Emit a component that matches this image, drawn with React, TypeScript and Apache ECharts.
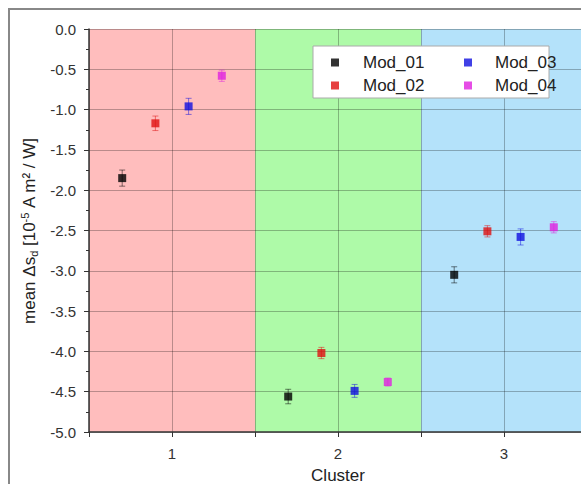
import React, { useEffect, useRef } from "react";
import * as echarts from "echarts";

const seriesNames = ["Mod_01", "Mod_02", "Mod_03", "Mod_04"];
const seriesColors = ["#000000", "#e01010", "#1010e0", "#e020e0"];
const mod01X = [0.7, 1.7, 2.7];
const mod01Y = [-1.85, -4.56, -3.05];
const mod01E = [0.1, 0.09, 0.1];
const mod02X = [0.9, 1.9, 2.9];
const mod02Y = [-1.17, -4.02, -2.51];
const mod02E = [0.09, 0.07, 0.07];
const mod03X = [1.1, 2.1, 3.1];
const mod03Y = [-0.96, -4.49, -2.58];
const mod03E = [0.1, 0.08, 0.1];
const mod04X = [1.3, 2.3, 3.3];
const mod04Y = [-0.58, -4.38, -2.46];
const mod04E = [0.07, 0.05, 0.07];
const clusterBands = [
  [0.5, 1.5],
  [1.5, 2.5],
  [2.5, 3.5],
];
const bandColors = ["#ffbdbd", "#aefaa8", "#b4e2fa"];

const allX = [mod01X, mod02X, mod03X, mod04X];
const allY = [mod01Y, mod02Y, mod03Y, mod04Y];
const allE = [mod01E, mod02E, mod03E, mod04E];

export default function App() {
  const ref = useRef<HTMLDivElement>(null);
  useEffect(() => {
    if (!ref.current) return;
    const chart = echarts.init(ref.current, undefined, { renderer: "svg" });
    const series: any[] = [];
    seriesNames.forEach((name, i) => {
      const pts = allX[i].map((x, j) => [x, allY[i][j], allE[i][j]]);
      const color = seriesColors[i];
      series.push({
        name: name + " err",
        type: "custom",
        z: 3,
        silent: true,
        data: pts,
        encode: { x: 0, y: 1 },
        renderItem: (params: any, api: any) => {
          const x = api.value(0);
          const y = api.value(1);
          const e = api.value(2);
          const t = api.coord([x, y + e]);
          const b = api.coord([x, y - e]);
          const cw = 3;
          const st = { stroke: color, lineWidth: 1, opacity: 0.5 };
          return {
            type: "group",
            children: [
              { type: "line", shape: { x1: t[0], y1: t[1], x2: b[0], y2: b[1] }, style: st },
              { type: "line", shape: { x1: t[0] - cw, y1: t[1], x2: t[0] + cw, y2: t[1] }, style: st },
              { type: "line", shape: { x1: b[0] - cw, y1: b[1], x2: b[0] + cw, y2: b[1] }, style: st },
            ],
          };
        },
      });
      const s: any = {
        name,
        type: "scatter",
        symbol: "rect",
        symbolSize: 8,
        z: 4,
        itemStyle: { color },
        data: pts.map((p) => [p[0], p[1]]),
      };
      if (i === 0) {
        s.markArea = {
          silent: true,
          z: 1,
          data: clusterBands.map((b, k) => [
            { xAxis: b[0], itemStyle: { color: bandColors[k], opacity: 1 } },
            { xAxis: b[1] },
          ]),
        };
      }
      series.push(s);
    });

    const legendText = { fontSize: 17, color: "#222", fontFamily: "Liberation Sans, Arial, sans-serif", lineHeight: 16 };
    chart.setOption({
      animation: false,
      textStyle: { fontFamily: "Liberation Sans, Arial, sans-serif" },
      grid: { left: 89, top: 29, width: 498, height: 403, containLabel: false, outerBoundsMode: "none" },
      xAxis: {
        type: "value",
        min: 0.5,
        max: 3.5,
        interval: 0.5,
        z: 2,
        name: "Cluster",
        nameLocation: "middle",
        nameGap: 36,
        nameTextStyle: { fontSize: 17, lineHeight: 14, color: "#222" },
        axisLine: { show: true, onZero: false, lineStyle: { color: "#333", width: 1.5 } },
        axisTick: { show: true, length: 5, lineStyle: { color: "#333" } },
        axisLabel: {
          margin: 14,
          fontSize: 15,
          color: "#333",
          formatter: (v: number) => (Number.isInteger(v) ? String(v) : ""),
        },
        splitLine: { show: true, lineStyle: { color: "rgba(0,0,0,0.27)", width: 1 } },
      },
      yAxis: {
        type: "value",
        min: -5,
        max: 0,
        interval: 0.5,
        z: 2,
        name: "{n|mean Δs}{sub|d}{n| [10}{sup|-5}{n| A m² / W]}",
        nameLocation: "middle",
        nameGap: 47,
        nameTextStyle: {
          fontSize: 17,
          color: "#222",
          rich: {
            n: { fontSize: 17, lineHeight: 20, color: "#222", verticalAlign: "middle" },
            sub: { fontSize: 11, lineHeight: 11, color: "#222", verticalAlign: "bottom" },
            sup: { fontSize: 11, lineHeight: 11, color: "#222", verticalAlign: "top" },
          },
        },
        axisLine: { show: true, onZero: false, lineStyle: { color: "#333", width: 1.5 } },
        axisTick: { show: true, length: 5, lineStyle: { color: "#333" } },
        minorTick: { show: true, splitNumber: 2, length: 3, lineStyle: { color: "#333" } },
        axisLabel: {
          margin: 13,
          fontSize: 15,
          color: "#333",
          formatter: (v: number) => v.toFixed(1),
        },
        splitLine: { show: true, lineStyle: { color: "rgba(0,0,0,0.27)", width: 1 } },
      },
      legend: [
        {
          left: 313,
          top: 46,
          orient: "vertical",
          itemGap: 6,
          itemWidth: 8,
          itemHeight: 8,
          icon: "rect",
          padding: [8, 0, 4, 18],
          backgroundColor: "#ffffff",
          borderColor: "#aaa",
          borderWidth: 1,
          z: 5,
          data: ["Mod_01", "Mod_02"],
          textStyle: { ...legendText, padding: [0, 10, 0, 19], width: 176 },
        },
        {
          left: 464,
          top: 54,
          orient: "vertical",
          itemGap: 6,
          itemWidth: 8,
          itemHeight: 8,
          icon: "rect",
          padding: 0,
          z: 6,
          data: ["Mod_03", "Mod_04"],
          textStyle: { ...legendText, padding: [0, 0, 0, 18] },
        },
      ],
      series,
    });
    return () => chart.dispose();
  }, []);

  return (
    <div
      style={{
        position: "fixed",
        left: 0,
        top: 0,
        width: 581,
        height: 484,
        overflow: "hidden",
        background: "#fff",
      }}
    >
      <div
        style={{
          position: "absolute",
          left: 8,
          top: 8,
          width: 700,
          height: 600,
          border: "2px solid #888",
          boxSizing: "border-box",
        }}
      />
      <div ref={ref} style={{ position: "absolute", left: 0, top: 0, width: 620, height: 520 }} />
    </div>
  );
}
